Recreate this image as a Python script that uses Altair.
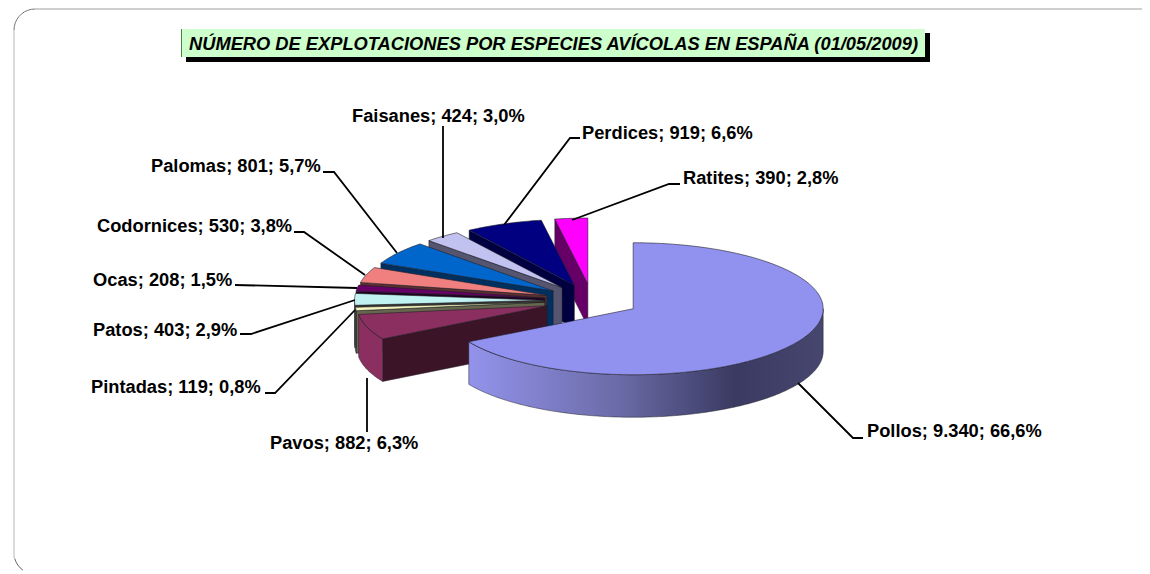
import math
import altair as alt

TITLE = "NÚMERO DE EXPLOTACIONES POR ESPECIES AVÍCOLAS EN ESPAÑA (01/05/2009)"
names = ["Pollos", "Pavos", "Pintadas", "Patos", "Ocas", "Codornices", "Palomas", "Faisanes", "Perdices", "Ratites"]
values = [9340, 882, 119, 403, 208, 530, 801, 424, 919, 390]
top_colors = ["#9191F0", "#8B2F60", "#F5F5C0", "#C0F2F2", "#660066", "#F08080", "#0066CC", "#C2C2F0", "#000080", "#FF00FF"]
side_colors = ["#9191F0", "#8B2F60", "#66664F", "#66664F", "#330033", "#703838", "#003060", "#55556F", "#000040", "#660066"]
wall_colors = ["#3B3B63", "#3C1428", "#66664F", "#3A3A30", "#200020", "#5C3030", "#003060", "#55556F", "#000040", "#660066"]

# layout of the drawing, in page pixels
W, H = 1134, 566
CX, CY, RX, RY, DEPTH, EXPLODE = 592, 300.5, 190, 66, 42.5, 0.25
FONT = "Liberation Sans"
LABEL_POS = {"Pollos": (867, 432), "Pavos": (270, 444), "Pintadas": (91, 388), "Patos": (93, 331), "Ocas": (93, 281),
             "Codornices": (97, 227), "Palomas": (151, 167), "Faisanes": (352, 117), "Perdices": (582, 134), "Ratites": (683, 179)}
LEADERS = {"Pollos": [(863, 438), (853, 438), (798, 383)], "Pavos": [(367, 378), (367, 432)],
           "Pintadas": [(265, 393), (275, 393), (355, 310)], "Patos": [(240, 334), (251, 334), (355, 300)],
           "Ocas": [(235, 285), (357, 288)], "Codornices": [(294, 232), (304, 232), (365, 275)],
           "Palomas": [(323, 172), (334, 172), (397, 253)], "Faisanes": [(443, 126), (443, 238)],
           "Perdices": [(580, 138), (570, 138), (504, 225)], "Ratites": [(680, 184), (669, 184), (572, 220)]}

sx = alt.Scale(domain=[8, 8 + W], range=[0, W], nice=False, zero=False)
sy = alt.Scale(domain=[8 + H, 8], nice=False, zero=False)


def path(points, color="#000000", width=1.0, fill=None):
    rows = [{"x": p[0], "y": p[1], "i": i} for i, p in enumerate(points)]
    kw = {"stroke": color, "strokeWidth": width}
    if fill is not None:
        kw["fill"] = fill
    return alt.Chart(alt.Data(values=rows)).mark_line(**kw).encode(
        x=alt.X("x:Q", scale=sx, axis=None),
        y=alt.Y("y:Q", scale=sy, axis=None),
        order=alt.Order("i:Q"),
    )


def rect(x0, y0, x1, y1, fill):
    return alt.Chart(alt.Data(values=[{"x": x0, "x2": x1, "y": y0, "y2": y1}])).mark_rect(fill=fill).encode(
        x=alt.X("x:Q", scale=sx, axis=None), x2="x2:Q",
        y=alt.Y("y:Q", scale=sy, axis=None), y2="y2:Q",
    )


def text(x, y, s, size, **kw):
    return alt.Chart(alt.Data(values=[{"x": x, "y": y, "t": s}])).mark_text(
        align="left", baseline="middle", font=FONT, fontWeight="bold", fontSize=size, color="#000000", **kw
    ).encode(
        x=alt.X("x:Q", scale=sx, axis=None),
        y=alt.Y("y:Q", scale=sy, axis=None),
        text="t:N",
    )


def arc_pts(a0, a1, ax, ay, dz=0.0):
    n = max(2, int(abs(a1 - a0)) + 2)
    out = []
    for k in range(n):
        a = math.radians(a0 + (a1 - a0) * k / (n - 1))
        out.append((ax + RX * math.sin(a), ay - RY * math.cos(a) + dz))
    return out


total = sum(values)
edge = "#202028"
slices = []
cum = 0
for i, (nm, v) in enumerate(zip(names, values)):
    a0 = cum / total * 360
    cum += v
    a1 = cum / total * 360
    mid = math.radians((a0 + a1) / 2)
    ax = CX + EXPLODE * RX * math.sin(mid)
    ay = CY - EXPLODE * RY * math.cos(mid)
    faces = []
    # visible cut face (start side of slices on the left half)
    if 180 < a0 < 360:
        s = math.radians(a0)
        px, py = ax + RX * math.sin(s), ay - RY * math.cos(s)
        pts = [(ax, ay), (px, py), (px, py + DEPTH), (ax, ay + DEPTH), (ax, ay)]
        faces.append(path(pts, edge, 0.5, wall_colors[i]))
    # visible outer rim
    lo, hi = max(a0, 90), min(a1, 270)
    if hi > lo:
        upper = arc_pts(lo, hi, ax, ay)
        lower = arc_pts(hi, lo, ax, ay, DEPTH)
        pts = upper + lower + [upper[0]]
        fill = side_colors[i]
        if nm == "Pollos":
            fill = alt.Gradient(
                gradient="linear", x1=0, x2=1, y1=0, y2=0,
                stops=[alt.GradientStop(offset=0, color="#9393EC"),
                       alt.GradientStop(offset=0.42, color="#6B6BA8"),
                       alt.GradientStop(offset=0.75, color="#3A3A62"),
                       alt.GradientStop(offset=1, color="#46466F")],
            )
        faces.append(path(pts, edge, 0.5, fill))
    # top
    pts = [(ax, ay)] + arc_pts(a0, a1, ax, ay) + [(ax, ay)]
    faces.append(path(pts, edge, 0.6, top_colors[i]))
    slices.append(faces)

layers = []
# frame
CORNER = 21
corner_pts = [(14 + CORNER - CORNER * math.cos(math.radians(t)), 9 + CORNER - CORNER * math.sin(math.radians(t))) for t in range(0, 91, 10)]
layers.append(path(corner_pts, "#777777", 1.0))
layers.append(path([(35, 9), (1142, 9)], "#A0A0A0", 1.2))
layers.append(path([(14, 30), (14, 558)], "#CCCCCC", 1.4))
bottom_pts = [(14 + CORNER - CORNER * math.cos(math.radians(t)), 553 + CORNER * math.sin(math.radians(t))) for t in range(15, 61, 10)]
layers.append(path(bottom_pts, "#666666", 1.0))

# title box
layers.append(rect(186, 33, 930, 62, "#000000"))
layers.append(rect(181, 29, 925, 57, "#CCFFCC"))
layers.append(path([(181.5, 29), (181.5, 57)], "#4F7F4F", 1.0))
layers.append(text(189, 45, TITLE, 18.3, fontStyle="italic"))

# slices, painted from the back to the front
for i in [9, 8, 7, 6, 5, 4, 3, 2, 1, 0]:
    layers.extend(slices[i])

# leaders and data labels
for nm, v in zip(names, values):
    layers.append(path(LEADERS[nm], "#000000", 1.8))
    s = f"{v:,}".replace(",", ".")
    pct = f"{v / total * 100:.1f}".replace(".", ",")
    x, y = LABEL_POS[nm]
    layers.append(text(x, y, f"{nm}; {s}; {pct}%", 18.3))

chart = alt.layer(*layers).properties(
    width=W, height=H, padding=0, autosize=alt.AutoSizeParams(type="none")
).configure_view(strokeWidth=0)

chart.save("out.html", embed_options={"renderer": "svg", "actions": False})
